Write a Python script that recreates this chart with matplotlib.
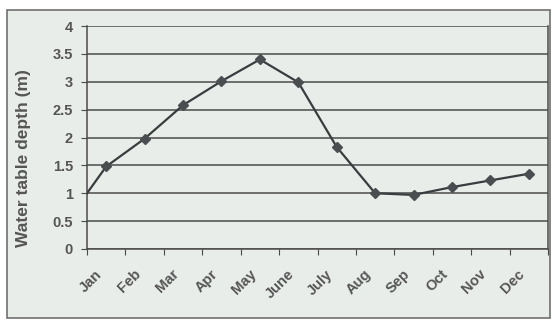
import numpy as np
import matplotlib.pyplot as plt
from matplotlib.patches import Rectangle
from matplotlib.transforms import ScaledTranslation

months = ["Jan", "Feb", "Mar", "Apr", "May", "June", "July",
          "Aug", "Sep", "Oct", "Nov", "Dec"]
depth = [1.48, 1.98, 2.58, 3.01, 3.40, 2.99, 1.83, 1.0, 0.97, 1.11, 1.23, 1.35]
start_depth = 1.0

plt.rcParams['font.family'] = ['Liberation Sans', 'DejaVu Sans']

bg = "#e9ede9"
grid_col = "#4a4a4a"
text_col = "#555555"

fig = plt.figure(figsize=(5.53, 3.21), dpi=100)
fig.patch.set_facecolor("white")

# chart frame, kept behind the axes
frame = Rectangle((7 / 553, 1 - 318 / 321), 543 / 553, 308 / 321,
                  transform=fig.transFigure, facecolor=bg,
                  edgecolor="#707070", linewidth=1.2, zorder=-5)
fig.add_artist(frame)

ax = fig.add_axes([87 / 553, 1 - 249 / 321, 461 / 553, 223 / 321])
ax.set_facecolor(bg)

centers = np.arange(len(months)) + 0.5
xs = np.concatenate([[0], centers])
ys = np.concatenate([[start_depth], depth])
ax.plot(xs, ys, color="#3a3d3f", linewidth=1.6, zorder=3)
ax.plot(centers, depth, linestyle="none", marker="D", markersize=5.5,
        color="#4a4e50", zorder=4)

ax.set_xlim(0, len(months))
ax.set_ylim(0, 4)
ax.set_yticks(np.arange(0, 4.01, 0.5))
ax.set_yticklabels(["0", "0.5", "1", "1.5", "2", "2.5", "3", "3.5", "4"])
ax.yaxis.grid(True, color=grid_col, linewidth=1.1)
ax.set_axisbelow(True)

ax.set_xticks(np.arange(0, len(months) + 1))
ax.set_xticklabels([])
ax.set_xticks(centers, minor=True)
ax.set_xticklabels(months, minor=True, rotation=45, ha="right",
                   rotation_mode="anchor")
ax.tick_params(axis="x", which="minor", length=0, pad=13)
ax.tick_params(axis="x", which="major", length=4, color=grid_col, direction="out")
ax.tick_params(axis="y", length=4, color=grid_col, direction="out", pad=6)
shift = ScaledTranslation(-8 / 72, 0, fig.dpi_scale_trans)
for lbl in ax.get_xticklabels(minor=True):
    lbl.set_transform(lbl.get_transform() + shift)
    lbl.set_fontsize(10.5)
for lbl in ax.get_yticklabels():
    lbl.set_fontsize(10.5)
for lbl in ax.get_xticklabels(minor=True) + ax.get_yticklabels():
    lbl.set_color(text_col)
    lbl.set_fontweight("bold")

for side in ["left", "right", "bottom", "top"]:
    ax.spines[side].set_color(grid_col)
    ax.spines[side].set_linewidth(1.1)
ax.spines["top"].set_visible(False)

ax.set_ylabel("Water table depth (m)", color=text_col, fontsize=12.5,
              fontweight="bold")
ax.yaxis.set_label_coords(-0.122, 0.41)

fig.savefig("out.png", dpi=100)
